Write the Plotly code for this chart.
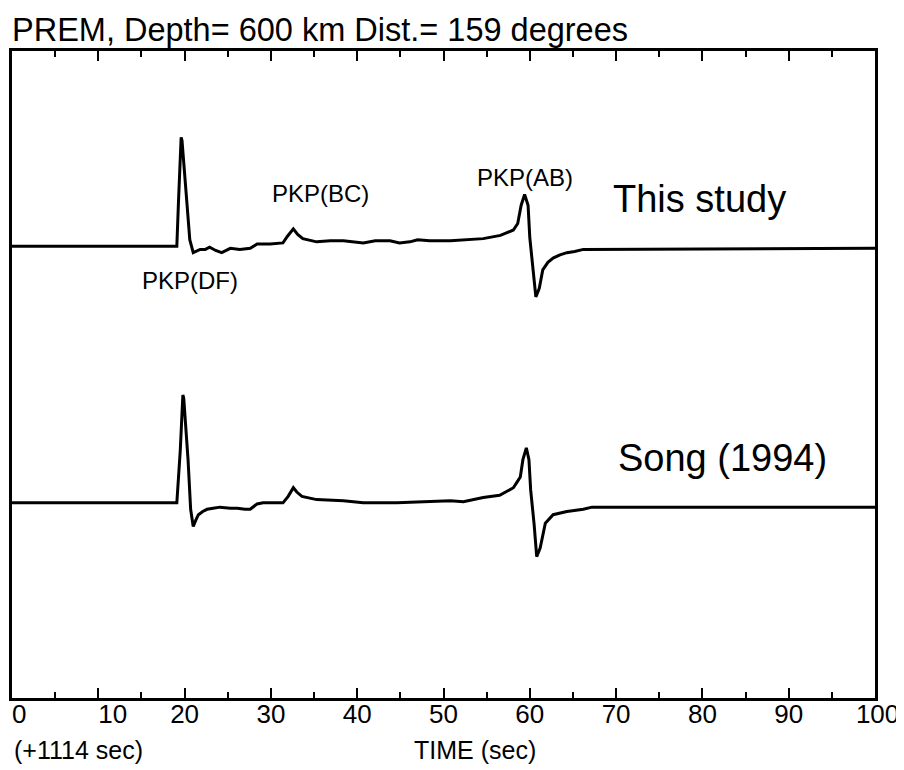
import plotly.graph_objects as go

# ---- data ----
# Time in seconds after 1114 s; amplitude normalised so PKP(DF) peak ~ 1
t_this = [0, 19.1, 19.3, 19.6, 19.7, 20.2, 20.6, 21.0, 21.8, 22.4, 22.9, 23.6, 24.3, 25.3,
          26.4, 27.6, 28.4, 29.9, 31.4, 31.9, 32.6, 33.1, 33.7, 35.3, 36.9, 38.4, 40.7,
          42.1, 43.8, 44.9, 46.1, 47.0, 48.4, 50.8, 52.5, 54.6, 56.6, 58.1, 58.6, 59.0,
          59.4, 59.8, 60.0, 60.4, 60.7, 61.1, 61.5, 62.1, 62.7, 63.5, 64.3, 65.2, 66.2, 100]
a_this = [0, 0, 0.43, 1.01, 0.98, 0.43, 0.06, -0.06, -0.03, -0.03, -0.01, -0.04, -0.06, -0.02,
          -0.03, -0.02, 0.02, 0.02, 0.03, 0.09, 0.16, 0.11, 0.07, 0.04, 0.05, 0.05, 0.03,
          0.05, 0.05, 0.03, 0.04, 0.06, 0.05, 0.05, 0.06, 0.07, 0.10, 0.15, 0.21, 0.38,
          0.48, 0.38, 0.08, -0.22, -0.47, -0.39, -0.22, -0.15, -0.11, -0.08, -0.06, -0.05, -0.03, -0.02]

t_song = [0, 19.1, 19.5, 19.8, 19.9, 20.4, 20.7, 21.0, 21.3, 21.6, 22.1, 22.6, 23.3, 24.1,
          25.3, 26.1, 27.0, 27.6, 28.4, 29.1, 31.4, 32.0, 32.6, 33.0, 33.6, 35.3, 38.4,
          40.7, 44.6, 48.4, 50.8, 52.3, 54.6, 56.5, 58.1, 58.5, 58.9, 59.2, 59.6, 59.9,
          60.1, 60.5, 60.8, 61.2, 61.8, 62.7, 64.3, 66.2, 67.2, 100]
a_song = [0, 0, 0.49, 1.00, 0.97, 0.40, -0.06, -0.22, -0.16, -0.11, -0.08, -0.06, -0.05, -0.04,
          -0.05, -0.05, -0.06, -0.06, -0.01, 0, 0, 0.06, 0.14, 0.10, 0.06, 0.03, 0.02,
          0, 0, 0.01, 0.02, 0.01, 0.05, 0.07, 0.14, 0.19, 0.24, 0.40, 0.51, 0.40,
          0.12, -0.20, -0.50, -0.42, -0.19, -0.11, -0.08, -0.06, -0.04, -0.04]

offset_this = 4.19
offset_song = 1.81

major_ticks = [0, 10, 20, 30, 40, 50, 60, 70, 80, 90, 100]
# labels as printed (some sit a little right of their tick in the original)
FS = "\u2007"
TS = "\u2009"
major_labels = [FS + "0", FS + FS + "10", "20", "30", "40", "50", "60",
                "70", "80", "90", TS + "100"]
minor_step = 5

FONT = "Liberation Sans, Arial, Helvetica, sans-serif"

fig = go.Figure()
fig.add_trace(go.Scatter(x=t_this, y=[offset_this + a for a in a_this], mode="lines",
                         line=dict(color="black", width=3), showlegend=False))
fig.add_trace(go.Scatter(x=t_song, y=[offset_song + a for a in a_song], mode="lines",
                         line=dict(color="black", width=3), showlegend=False))

ann = [
    dict(text="PKP(DF)", x=20.6, y=3.87, size=24),
    dict(text="PKP(BC)", x=35.8, y=4.68, size=24),
    dict(text="PKP(AB)", x=59.4, y=4.83, size=24),
    dict(text="This study", x=79.7, y=4.63, size=38),
    dict(text="Song (1994)", x=82.3, y=2.23, size=38),
]
for a in ann:
    fig.add_annotation(x=a["x"], y=a["y"], xref="x", yref="y", text=a["text"],
                       showarrow=False, xanchor="center", yanchor="middle",
                       font=dict(family=FONT, size=a["size"], color="black"))

fig.add_annotation(x=0, y=1.0, xref="paper", yref="paper", yshift=21, xshift=-2,
                   text="PREM, Depth= 600 km Dist.= 159 degrees", showarrow=False,
                   xanchor="left", yanchor="middle",
                   font=dict(family=FONT, size=32.5, color="black"))
fig.add_annotation(x=0, y=-0.08, xref="paper", yref="paper",
                   text="(+1114 sec)", showarrow=False, xanchor="left", yanchor="middle",
                   font=dict(family=FONT, size=25, color="black"))
fig.add_annotation(x=53.6, y=-0.08, xref="x", yref="paper",
                   text="TIME (sec)", showarrow=False, xanchor="center", yanchor="middle",
                   font=dict(family=FONT, size=25, color="black"))

tick_common = dict(range=[0, 100], overlaying="x",
                   tickwidth=2, tickcolor="black", ticks="inside",
                   showline=False, showgrid=False, zeroline=False, automargin=False)

# page body has an 8px margin, so figure is 8px smaller than the window
fig.update_layout(
    width=896, height=762,
    margin=dict(l=4, r=29, t=43, b=72, autoexpand=False),
    paper_bgcolor="white", plot_bgcolor="white",
    font=dict(family=FONT, color="black"),
    xaxis=dict(range=[0, 100], ticks="", showticklabels=False,
               showline=True, linecolor="black", linewidth=2.5, mirror=True,
               showgrid=False, zeroline=False, automargin=False),
    # bottom major ticks with labels
    xaxis2=dict(**tick_common, matches="x", anchor="y", side="bottom", tickmode="array",
                tickvals=major_ticks, ticktext=major_labels, ticklen=10,
                showticklabels=True, ticklabeloverflow="allow", ticklabelstandoff=-2,
                tickfont=dict(family=FONT, size=26, color="black")),
    # bottom minor ticks
    xaxis3=dict(**tick_common, matches="x", anchor="y", side="bottom", tickmode="linear",
                tick0=minor_step, dtick=2 * minor_step, ticklen=6, showticklabels=False),
    # top major ticks
    xaxis4=dict(**tick_common, anchor="y", side="top",
                tickmode="array", tickvals=major_ticks, ticklen=10, showticklabels=False),
    # top minor ticks
    xaxis5=dict(**tick_common, anchor="y", side="top",
                tickmode="linear", tick0=minor_step, dtick=2 * minor_step, ticklen=6,
                showticklabels=False),
    yaxis=dict(range=[0, 6.0], showticklabels=False, ticks="",
               showline=True, linecolor="black", linewidth=2.5, mirror=True,
               showgrid=False, zeroline=False, automargin=False),
)
# invisible helper traces so the tick-only axes are drawn
for ax in ["x2", "x3", "x4", "x5"]:
    fig.add_trace(go.Scatter(x=[t_this[0], t_this[-1]], y=[offset_this, offset_this],
                             xaxis=ax, mode="lines", line=dict(width=0, color="rgba(0,0,0,0)"),
                             hoverinfo="skip", showlegend=False))

fig.write_html("out.html")
